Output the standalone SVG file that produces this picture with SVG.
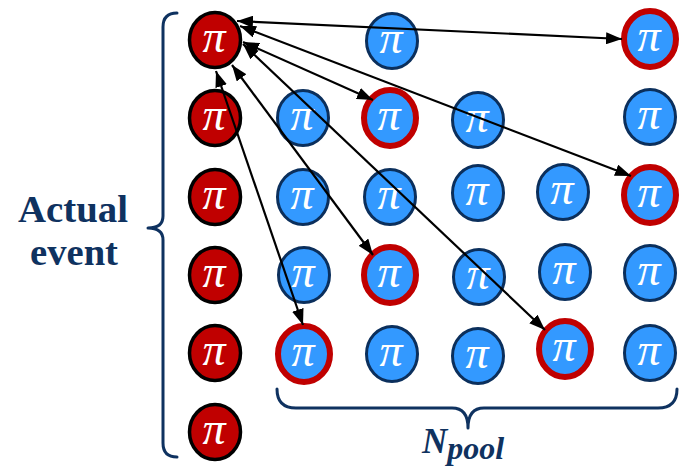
<svg xmlns="http://www.w3.org/2000/svg" width="685" height="468" viewBox="0 0 685 468">
<style>
.red{fill:#C00000;stroke:#000;stroke-width:3.5}
.blue{fill:#3399FF;stroke:#0B2F5C;stroke-width:3}
.sel{fill:#3399FF;stroke:#C00000;stroke-width:6}
.pi{font-family:"Liberation Serif","DejaVu Serif",serif;font-style:italic;font-size:46px;fill:#fff;text-anchor:middle}
.brace{fill:none;stroke:#0F3260;stroke-width:3;stroke-linecap:round;stroke-linejoin:round}
.lbl{font-family:"Liberation Serif","DejaVu Serif",serif;font-weight:bold;fill:#0F3260}
.conn line{stroke:#000;stroke-width:2.2;marker-start:url(#ah);marker-end:url(#ah)}
</style>
<defs>
<marker id="ah" markerUnits="userSpaceOnUse" viewBox="0 0 16 12" markerWidth="16" markerHeight="12" refX="16" refY="6" orient="auto-start-reverse">
<path d="M0,0 L16,6 L0,12 z" fill="#000"/>
</marker>
</defs>
<rect width="685" height="468" fill="#fff"/>

<g id="brace-left"><path class="brace" d="M177,13 Q163,13 163,27 L163,216 Q163,228 148,228 Q163,228 163,240 L163,443 Q163,457 177,457"/></g>
<g id="label-actual-event">
<text class="lbl" x="73" y="222" font-size="38" text-anchor="middle" textLength="110" lengthAdjust="spacingAndGlyphs">Actual</text>
<text class="lbl" x="74" y="265" font-size="38" text-anchor="middle" textLength="88" lengthAdjust="spacingAndGlyphs">event</text>
</g>
<g id="brace-bottom"><path class="brace" d="M277,389 Q277,408 296,408 L452,408 Q468,408 468,428 Q468,408 484,408 L658,408 Q677,408 677,389"/></g>
<g id="label-npool">
<text class="lbl" font-style="italic" x="422" y="453" font-size="35">N<tspan font-size="32" dy="6">pool</tspan></text>
</g>

<g id="actual-1"><ellipse class="red" cx="215" cy="40" rx="25.5" ry="27.5"/><text class="pi" x="214" y="52">π</text></g>
<g id="actual-2"><ellipse class="red" cx="215" cy="118" rx="25.5" ry="27.5"/><text class="pi" x="214" y="130">π</text></g>
<g id="actual-3"><ellipse class="red" cx="215" cy="197" rx="25.5" ry="27.5"/><text class="pi" x="214" y="209">π</text></g>
<g id="actual-4"><ellipse class="red" cx="215" cy="275" rx="25.5" ry="27.5"/><text class="pi" x="214" y="287">π</text></g>
<g id="actual-5"><ellipse class="red" cx="215" cy="353" rx="25.5" ry="27.5"/><text class="pi" x="214" y="365">π</text></g>
<g id="actual-6"><ellipse class="red" cx="215" cy="432" rx="25.5" ry="27.5"/><text class="pi" x="214" y="444">π</text></g>

<g id="pool-r1c2"><ellipse class="blue" cx="392" cy="41" rx="25.5" ry="27.5"/><text class="pi" x="391" y="53">π</text></g>
<g id="pool-r1c5"><ellipse class="sel" cx="650" cy="39" rx="26" ry="28"/><text class="pi" x="649" y="51">π</text></g>

<g id="pool-r2c1"><ellipse class="blue" cx="303" cy="118" rx="25.5" ry="27.5"/><text class="pi" x="302" y="130">π</text></g>
<g id="pool-r2c2"><ellipse class="sel" cx="390" cy="118" rx="26" ry="28"/><text class="pi" x="389" y="130">π</text></g>
<g id="pool-r2c3"><ellipse class="blue" cx="478" cy="120" rx="25.5" ry="27.5"/><text class="pi" x="477" y="132">π</text></g>
<g id="pool-r2c5"><ellipse class="blue" cx="650" cy="117" rx="25.5" ry="27.5"/><text class="pi" x="649" y="129">π</text></g>

<g id="pool-r3c1"><ellipse class="blue" cx="303" cy="197" rx="25.5" ry="27.5"/><text class="pi" x="302" y="209">π</text></g>
<g id="pool-r3c2"><ellipse class="blue" cx="390" cy="197" rx="25.5" ry="27.5"/><text class="pi" x="389" y="209">π</text></g>
<g id="pool-r3c3"><ellipse class="blue" cx="478" cy="193" rx="25.5" ry="27.5"/><text class="pi" x="477" y="205">π</text></g>
<g id="pool-r3c4"><ellipse class="blue" cx="563" cy="192" rx="25.5" ry="27.5"/><text class="pi" x="562" y="204">π</text></g>
<g id="pool-r3c5"><ellipse class="sel" cx="650" cy="195" rx="26" ry="28"/><text class="pi" x="649" y="207">π</text></g>

<g id="pool-r4c1"><ellipse class="blue" cx="304" cy="275" rx="25.5" ry="27.5"/><text class="pi" x="303" y="287">π</text></g>
<g id="pool-r4c2"><ellipse class="sel" cx="390" cy="275" rx="26" ry="28"/><text class="pi" x="389" y="287">π</text></g>
<g id="pool-r4c3"><ellipse class="blue" cx="479" cy="277" rx="25.5" ry="27.5"/><text class="pi" x="478" y="289">π</text></g>
<g id="pool-r4c4"><ellipse class="blue" cx="565" cy="272" rx="25.5" ry="27.5"/><text class="pi" x="564" y="284">π</text></g>
<g id="pool-r4c5"><ellipse class="blue" cx="650" cy="273" rx="25.5" ry="27.5"/><text class="pi" x="649" y="285">π</text></g>

<g id="pool-r5c1"><ellipse class="sel" cx="304" cy="354" rx="26" ry="28"/><text class="pi" x="303" y="366">π</text></g>
<g id="pool-r5c2"><ellipse class="blue" cx="392" cy="354" rx="25.5" ry="27.5"/><text class="pi" x="391" y="366">π</text></g>
<g id="pool-r5c3"><ellipse class="blue" cx="478" cy="356" rx="25.5" ry="27.5"/><text class="pi" x="477" y="368">π</text></g>
<g id="pool-r5c4"><ellipse class="sel" cx="565" cy="349" rx="26" ry="28"/><text class="pi" x="564" y="361">π</text></g>
<g id="pool-r5c5"><ellipse class="blue" cx="650" cy="353" rx="25.5" ry="27.5"/><text class="pi" x="649" y="365">π</text></g>

<g id="connectors" class="conn">
<line x1="237" y1="21" x2="622" y2="39"/>
<line x1="240" y1="26" x2="631" y2="176"/>
<line x1="243" y1="42" x2="373" y2="100"/>
<line x1="243" y1="44" x2="545" y2="330"/>
<line x1="232" y1="65" x2="373" y2="255"/>
<line x1="216" y1="71" x2="303" y2="325"/>
</g>
</svg>
